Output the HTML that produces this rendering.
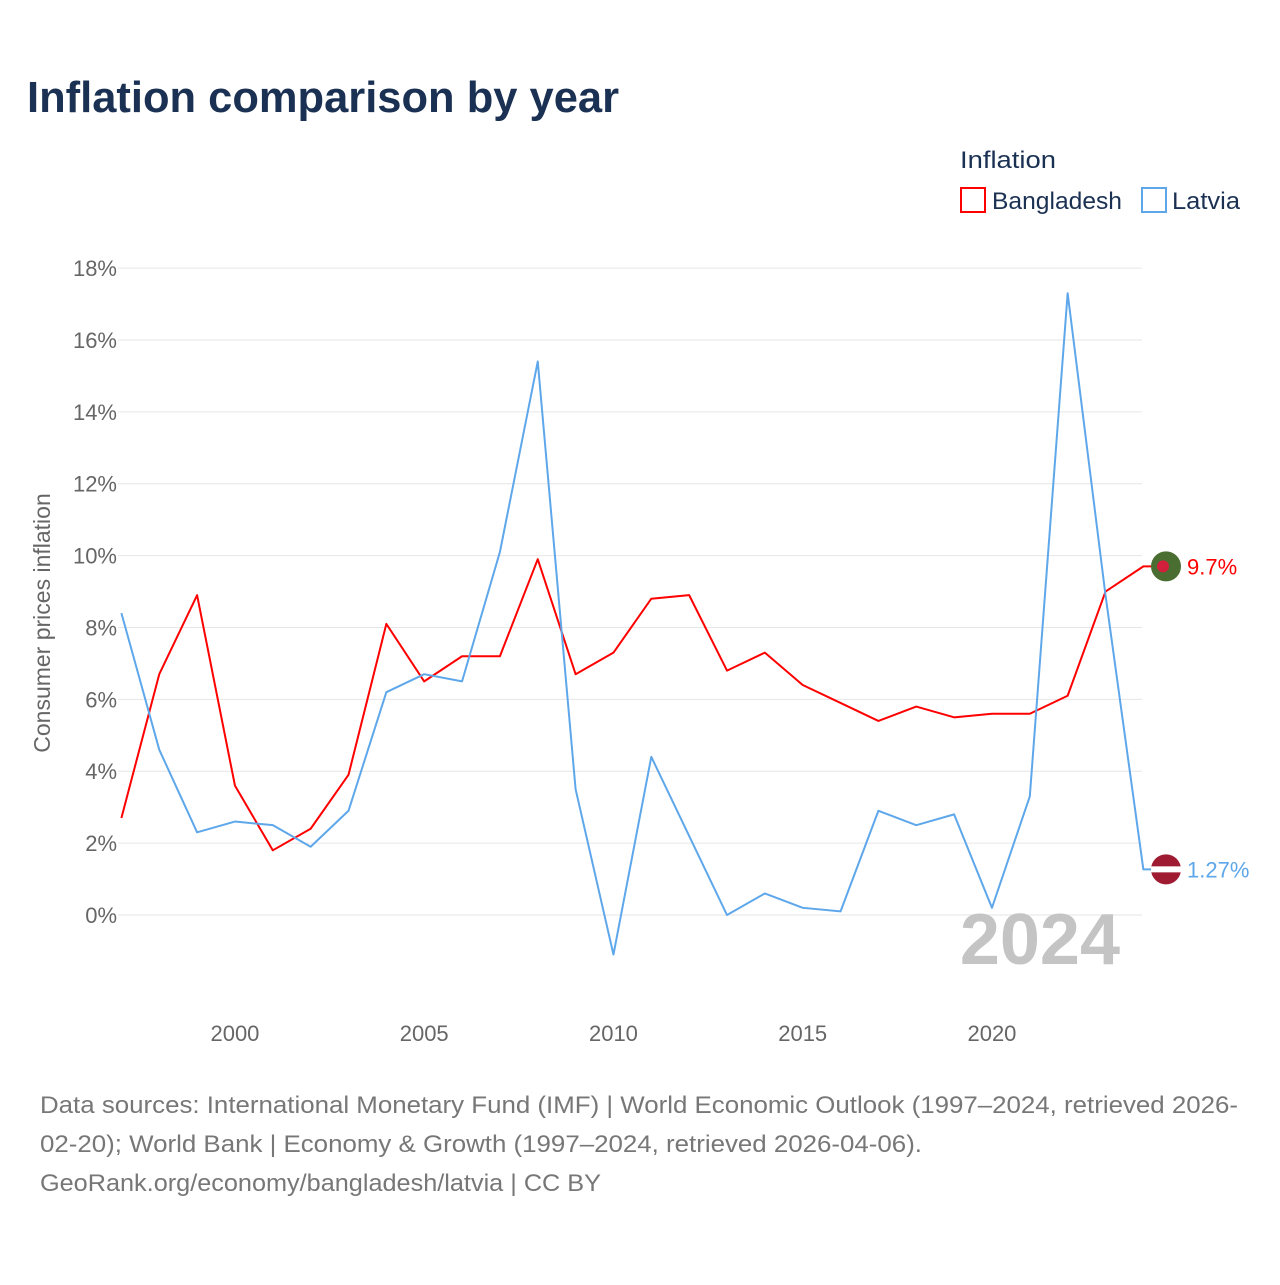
<!DOCTYPE html>
<html><head><meta charset="utf-8"><style>
body{margin:0;background:#fff;font-family:"Liberation Sans",sans-serif}
svg text{font-family:"Liberation Sans",sans-serif}
</style></head><body>
<svg id="chart" width="1280" height="1280" viewBox="0 0 1280 1280">
<text x="27" y="112" font-size="44" font-weight="bold" fill="#1b3153" textLength="592" lengthAdjust="spacingAndGlyphs">Inflation comparison by year</text>
<text x="960" y="168" font-size="24" fill="#1b3153" textLength="96" lengthAdjust="spacingAndGlyphs">Inflation</text>
<g><rect x="961" y="188" width="24" height="24" fill="none" stroke="#ff0000" stroke-width="2"/><text x="992" y="209" font-size="24" fill="#1b3153" textLength="130" lengthAdjust="spacingAndGlyphs">Bangladesh</text></g>
<g><rect x="1142" y="188" width="24" height="24" fill="none" stroke="#5ea7ea" stroke-width="2"/><text x="1172" y="209" font-size="24" fill="#1b3153" textLength="68" lengthAdjust="spacingAndGlyphs">Latvia</text></g>
<text transform="translate(50,623) rotate(-90)" text-anchor="middle" font-size="23" fill="#666">Consumer prices inflation</text>
<g id="grid"></g><g id="yticks"></g><g id="xticks"></g>
<text x="1120" y="964" text-anchor="end" font-size="72" font-weight="bold" fill="#c4c4c4">2024</text>
<g id="lines"></g>
<text x="40" y="1113" font-size="24" fill="#777" textLength="1198" lengthAdjust="spacingAndGlyphs">Data sources: International Monetary Fund (IMF) | World Economic Outlook (1997–2024, retrieved 2026-</text>
<text x="40" y="1152" font-size="24" fill="#777" textLength="882" lengthAdjust="spacingAndGlyphs">02-20); World Bank | Economy &amp; Growth (1997–2024, retrieved 2026-04-06).</text>
<text x="40" y="1191" font-size="24" fill="#777" textLength="561" lengthAdjust="spacingAndGlyphs">GeoRank.org/economy/bangladesh/latvia | CC BY</text>
</svg>
<script>
const years=[1997,1998,1999,2000,2001,2002,2003,2004,2005,2006,2007,2008,2009,2010,2011,2012,2013,2014,2015,2016,2017,2018,2019,2020,2021,2022,2023,2024];
const bangladesh=[2.7,6.7,8.9,3.6,1.8,2.4,3.9,8.1,6.5,7.2,7.2,9.9,6.7,7.3,8.8,8.9,6.8,7.3,6.4,5.9,5.4,5.8,5.5,5.6,5.6,6.1,9.0,9.7];
const latvia=[8.4,4.6,2.3,2.6,2.5,1.9,2.9,6.2,6.7,6.5,10.1,15.4,3.5,-1.1,4.4,2.2,0.0,0.6,0.2,0.1,2.9,2.5,2.8,0.2,3.3,17.3,8.9,1.27];
const yTicks=[0,2,4,6,8,10,12,14,16,18];
const xTicks=[2000,2005,2010,2015,2020];
const endLabels=["9.7%","1.27%"];
const NS="http://www.w3.org/2000/svg";
const X=y=>121.4+(y-1997)*37.85;
const Y=v=>915-v*35.94;
function mk(t,a,p){const e=document.createElementNS(NS,t);for(const k in a)e.setAttribute(k,a[k]);p.appendChild(e);return e;}
const grid=document.getElementById('grid'),yt=document.getElementById('yticks'),xt=document.getElementById('xticks'),ln=document.getElementById('lines');
yTicks.forEach(v=>{
const g=mk('line',{x1:118,x2:1142,y1:Y(v),y2:Y(v),stroke:'#e6e6e6','stroke-width':1},grid);


const t=mk('text',{x:117,y:Y(v)+8,'text-anchor':'end','font-size':22,fill:'#666'},yt);
t.textContent=v+'%';


});
xTicks.forEach(v=>{
const t=mk('text',{x:X(v),y:1041,'text-anchor':'middle','font-size':22,fill:'#666'},xt);
t.textContent=v;


});
function series(vals,color,name,label,flag){
const pts=vals.map((v,i)=>X(years[i])+','+Y(v)).join(' ');
const last=vals[vals.length-1];
const p=mk('polyline',{points:pts+' 1155,'+Y(last),fill:'none',stroke:color,'stroke-width':2,'stroke-linejoin':'round'},ln);


const m=mk('g',{},ln);


flag(m,1166,Y(last));
const t=mk('text',{x:1187,y:Y(last)+8,'font-size':22,fill:color},ln);
t.textContent=label;


}
series(bangladesh,'#ff0000','bangladesh',endLabels[0],(g,x,y)=>{mk('circle',{cx:x,cy:y,r:15,fill:'#4a6e31'},g);mk('circle',{cx:x-3,cy:y,r:6,fill:'#d21f3c'},g);});
series(latvia,'#5ea7ea','latvia',endLabels[1],(g,x,y)=>{mk('circle',{cx:x,cy:y,r:15,fill:'#9e1b32'},g);mk('rect',{x:x-15,y:y-3,width:30,height:6,fill:'#fff'},g);});
</script>
</body></html>
